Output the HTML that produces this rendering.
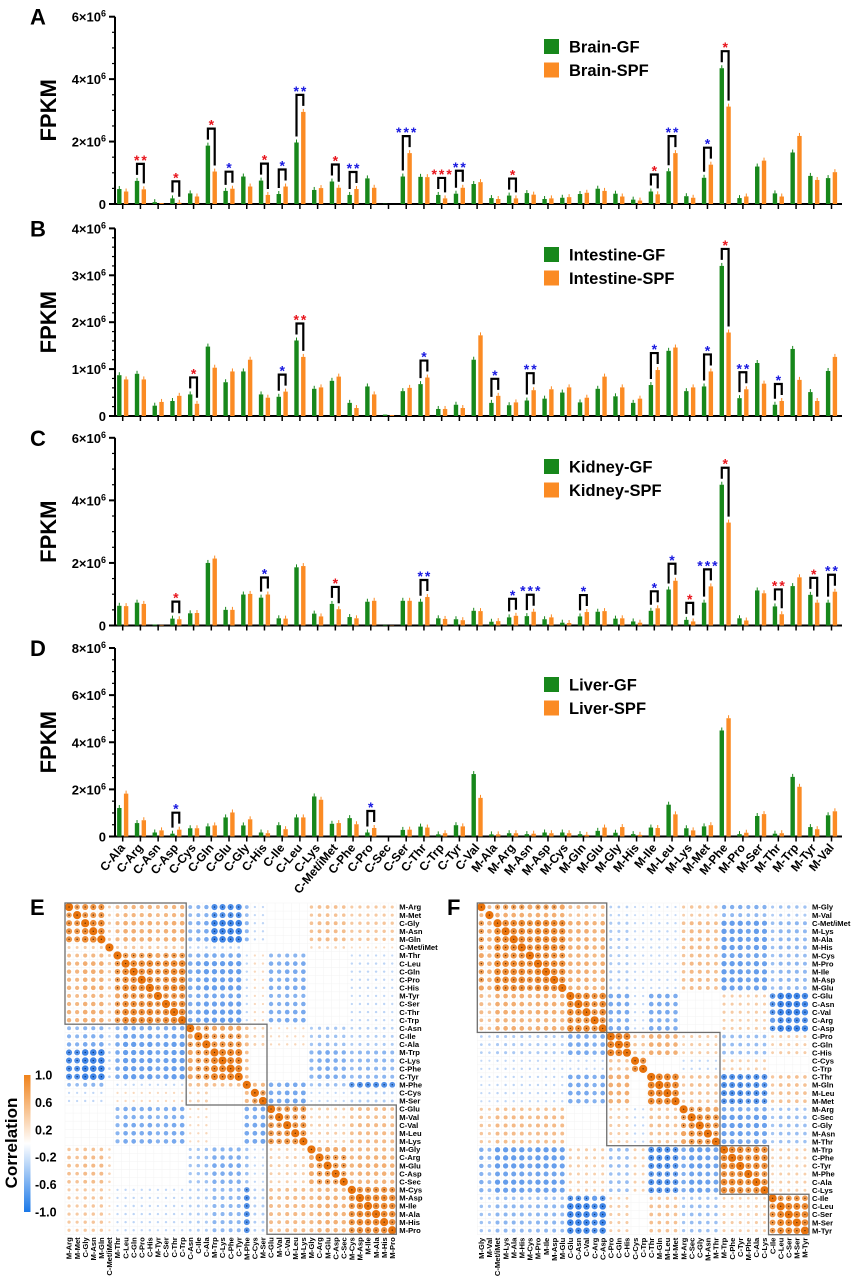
<!DOCTYPE html>
<html><head><meta charset="utf-8">
<style>
html,body{margin:0;padding:0;background:#fff;}
svg{display:block;font-family:"Liberation Sans",Arial,sans-serif;}
</style></head>
<body>
<svg id="fig" width="855" height="1280" viewBox="0 0 855 1280" xmlns="http://www.w3.org/2000/svg"></svg>
<script>
const categories = ["C-Ala","C-Arg","C-Asn","C-Asp","C-Cys","C-Gln","C-Glu","C-Gly","C-His","C-Ile","C-Leu","C-Lys","C-Met/iMet","C-Phe","C-Pro","C-Sec","C-Ser","C-Thr","C-Trp","C-Tyr","C-Val","M-Ala","M-Arg","M-Asn","M-Asp","M-Cys","M-Gln","M-Glu","M-Gly","M-His","M-Ile","M-Leu","M-Lys","M-Met","M-Phe","M-Pro","M-Ser","M-Thr","M-Trp","M-Tyr","M-Val"];
// values in units of 10^6 FPKM
const brainGF  = [.48,.74,.06,.18,.34,1.87,.42,.88,.75,.32,1.97,.45,.72,.29,.82,.01,.88,.87,.29,.33,.64,.19,.27,.35,.16,.20,.32,.49,.33,.14,.40,1.05,.25,.84,4.35,.19,1.20,.34,1.65,.90,.83];
const brainSPF = [.40,.47,.03,.04,.24,1.04,.49,.56,.29,.56,2.95,.51,.52,.48,.52,0,1.63,.86,.18,.52,.70,.16,.18,.30,.18,.22,.36,.42,.24,.11,.31,1.63,.20,1.26,3.12,.24,1.39,.24,2.18,.77,1.02];
const intGF  = [.87,.90,.22,.32,.46,1.48,.72,.95,.46,.41,1.61,.58,.75,.28,.63,.03,.53,.68,.15,.24,1.20,.28,.23,.33,.37,.50,.29,.58,.42,.28,.66,1.39,.53,.63,3.20,.38,1.13,.24,1.43,.51,.96];
const intSPF = [.78,.78,.30,.43,.26,1.03,.95,1.20,.39,.52,1.26,.61,.84,.17,.46,.02,.60,.82,.15,.17,1.72,.43,.29,.55,.57,.61,.39,.84,.61,.37,.98,1.46,.61,.95,1.78,.57,.69,.32,.77,.32,1.26];
const kidGF  = [.63,.73,.03,.22,.39,2.00,.50,.99,.89,.23,1.86,.38,.69,.27,.76,.02,.79,.76,.23,.20,.47,.12,.26,.30,.20,.09,.29,.44,.22,.13,.47,1.15,.18,.73,4.50,.23,1.12,.61,1.26,.98,.73];
const kidSPF = [.62,.69,.02,.20,.40,2.14,.50,1.01,.99,.22,1.90,.29,.52,.23,.79,.01,.79,.91,.21,.17,.46,.14,.31,.44,.26,.08,.43,.46,.23,.09,.55,1.43,.13,1.25,3.29,.16,1.03,.36,1.54,.73,1.08];
const livGF  = [1.21,.57,.17,.12,.35,.43,.81,.47,.17,.48,.81,1.70,.54,.78,.17,0,.28,.42,.09,.48,2.65,.09,.14,.10,.17,.17,.10,.24,.16,.10,.38,1.35,.35,.43,4.50,.10,.87,.12,2.53,.40,.90];
const livSPF = [1.82,.69,.26,.29,.35,.47,1.02,.73,.14,.31,.81,1.56,.57,.52,.36,0,.29,.38,.14,.43,1.64,.09,.14,.12,.14,.14,.07,.38,.40,.07,.36,.94,.26,.48,5.02,.16,.95,.14,2.11,.31,1.07];
// significance: [category index, stars, colour]
const sigBrain = [[1,"**","r"],[3,"*","r"],[5,"*","r"],[6,"*","b"],[8,"*","r"],[9,"*","b"],[10,"**","b"],[12,"*","r"],[13,"**","b"],[16,"***","b"],[18,"***","r"],[19,"**","b"],[22,"*","r"],[30,"*","r"],[31,"**","b"],[33,"*","b"],[34,"*","r"]];
const sigInt = [[4,"*","r"],[9,"*","b"],[10,"**","r"],[17,"*","b"],[21,"*","b"],[23,"**","b"],[30,"*","b"],[33,"*","b"],[34,"*","r"],[35,"**","b"],[37,"*","b"]];
const sigKid = [[3,"*","r"],[8,"*","b"],[12,"*","r"],[17,"**","b"],[22,"*","b"],[23,"***","b"],[26,"*","b"],[30,"*","b"],[31,"*","b"],[32,"*","r"],[33,"***","b"],[34,"*","r"],[37,"**","r"],[39,"*","r"],[40,"**","b"]];
const sigLiv = [[3,"*","b"],[14,"*","b"]];
const ticksBrain = [0,2,4,6];
const ticksInt = [0,1,2,3,4];
const ticksKid = [0,2,4,6];
const ticksLiv = [0,2,4,6,8];

const rowsE = ["M-Arg","M-Met","C-Gly","M-Asn","M-Gln","C-Met/iMet","M-Thr","C-Leu","C-Gln","C-Pro","C-His","M-Tyr","C-Ser","C-Thr","C-Trp","C-Asn","C-Ile","C-Ala","M-Trp","C-Lys","C-Phe","C-Tyr","M-Phe","C-Cys","M-Ser","C-Glu","M-Val","C-Val","M-Leu","M-Lys","M-Gly","C-Arg","M-Glu","C-Asp","C-Sec","M-Cys","M-Asp","M-Ile","M-Ala","M-His","M-Pro"];
const clusterE = [0,0,0,0,0,1,2,2,2,2,2,2,2,2,2,3,3,3,4,4,4,4,5,6,6,7,7,7,7,7,8,8,8,8,8,9,9,9,9,9,9];
const loadE = [.9,.85,1,1,1,.7,.8,1,1,.95,1,.85,.95,1,1,.8,.9,1,1,1,1,1,1,.85,.9,.95,.9,1,1,1,.8,.95,1,.95,.9,.9,1,1,1,1,.95];
const blockE = [
[.75,.3,.45,-.45,-.75,-.35,-.1,0,.35,.25],
[.3,.9,.35,-.2,-.2,0,0,0,.2,.1],
[.45,.35,.75,-.55,-.55,-.1,.1,-.45,0,-.1],
[-.45,-.2,-.55,.7,.65,.35,.2,.1,-.3,-.2],
[-.75,-.2,-.55,.65,.8,.3,0,0,-.45,-.35],
[-.35,0,-.1,.35,.3,1,.4,-.45,-.3,-.65],
[-.1,0,.1,.2,0,.4,.75,-.55,-.1,-.2],
[0,0,-.45,.1,0,-.45,-.55,.65,.2,.35],
[.35,.2,0,-.3,-.45,-.3,-.1,.2,.65,.45],
[.25,.1,-.1,-.2,-.35,-.65,-.2,.35,.45,.75]];
const boxesE = [[0,15],[15,25],[25,41]];
const rowsF = ["M-Gly","M-Val","C-Met/iMet","M-Lys","M-Ala","M-His","M-Cys","M-Pro","M-Ile","M-Asp","M-Glu","C-Glu","C-Asn","C-Val","C-Arg","C-Asp","C-Pro","C-Gln","C-His","C-Cys","C-Trp","C-Thr","M-Gln","M-Leu","M-Met","M-Arg","C-Sec","C-Gly","M-Asn","M-Thr","M-Trp","C-Phe","C-Tyr","M-Phe","C-Ala","C-Lys","C-Ile","C-Leu","C-Ser","M-Ser","M-Tyr"];
const clusterF = [0,0,0,0,0,0,0,0,0,0,0,1,1,1,1,1,2,2,2,3,3,4,4,4,4,5,5,5,5,5,6,6,6,6,6,6,7,7,7,7,7];
const loadF = [.75,.6,1,1,1,1,.9,1,1,1,.95,1,1,1,.9,1,1,1,1,.9,.9,1,1,1,.95,.8,1,1,.95,.9,1,1,1,.9,1,.95,.8,1,1,1,.95];
const blockF = [
[.75,.45,-.2,-.1,-.1,.35,-.55,-.35],
[.45,.75,-.45,-.1,-.45,0,.2,-.75],
[-.2,-.45,.8,.3,.45,.2,-.3,.2],
[-.1,-.1,.3,.85,0,-.1,.2,0],
[-.1,-.45,.45,0,.8,.3,-.65,.3],
[.35,0,.2,-.1,.3,.7,-.55,-.3],
[-.55,.2,-.3,.2,-.65,-.55,.75,.2],
[-.35,-.75,.2,0,.3,-.3,.2,.8]];
const boxesF = [[0,16],[16,30],[30,36],[36,41]];
const cbarLabels = ["1.0","0.6","0.2","-0.2","-0.6","-1.0"];

const NS="http://www.w3.org/2000/svg";
const svg=document.getElementById('fig');
function mk(tag,attrs,parent){const e=document.createElementNS(NS,tag);for(const k in attrs)e.setAttribute(k,attrs[k]);(parent||svg).appendChild(e);return e;}
const GREEN="#17871b", ORANGE="#fb8b24";
const X0=122.7, DX=17.72, AXL=115, AXR=842;
const xc=i=>X0+DX*i;

function barPanel(cfg){
  const g=mk('g',{});
  
  
  const y=v=>cfg.base-v/cfg.max*(cfg.base-cfg.top);
  const L=mk('text',{x:30,y:cfg.top+8,'font-size':22,'font-weight':'bold'},g);L.textContent=cfg.letter;
  
  
  const yc=(cfg.top+cfg.base)/2;
  const T=mk('text',{x:56,y:yc,'font-size':22,'font-weight':'bold','text-anchor':'middle',transform:`rotate(-90 56 ${yc})`},g);T.textContent='FPKM';
  
  
  const ax=mk('path',{d:`M${AXL},${cfg.top} V${cfg.base} H${AXR}`,stroke:'#000','stroke-width':2,fill:'none'},g);
  
  
  for(let v=0;v<=cfg.max+1e-9;v+=cfg.minor){
    mk('line',{x1:AXL-3,x2:AXL,y1:y(v),y2:y(v),stroke:'#000','stroke-width':1.2},g);
  }
  cfg.ticks.forEach(t=>{
    mk('line',{x1:AXL-6,x2:AXL,y1:y(t),y2:y(t),stroke:'#000','stroke-width':2},g);
    const tx=mk('text',{x:AXL-9,y:y(t)+5,'font-size':13,'font-weight':'bold','text-anchor':'end'},g);
    
    
    if(t===0){tx.textContent='0';}
    else{tx.textContent=t+'×10';const s=mk('tspan',{dy:-5,'font-size':9},tx);s.textContent='6';}
  });
  categories.forEach((c,i)=>{
    mk('line',{x1:xc(i),x2:xc(i),y1:cfg.base,y2:cfg.base+5,stroke:'#000','stroke-width':1.5},g);
    const gv=cfg.gf[i], ov=cfg.spf[i];
    const b1=mk('rect',{x:xc(i)-5.6,y:y(gv),width:4.4,height:cfg.base-y(gv),fill:GREEN},g);
    
    
    const b2=mk('rect',{x:xc(i)+1.2,y:y(ov),width:4.4,height:cfg.base-y(ov),fill:ORANGE},g);
    
    
    if(gv>0.03){mk('line',{x1:xc(i)-3.4,x2:xc(i)-3.4,y1:y(gv),y2:y(gv)-3,stroke:GREEN,'stroke-width':1},g);}
    if(ov>0.03){mk('line',{x1:xc(i)+3.4,x2:xc(i)+3.4,y1:y(ov),y2:y(ov)-3,stroke:ORANGE,'stroke-width':1},g);}
  });
  cfg.sig.forEach(s=>{
    const i=s[0];const gt=y(cfg.gf[i])-6, ot=y(cfg.spf[i])-6;
    const top=Math.min(gt,ot)-11;
    const br=mk('path',{d:`M${xc(i)-3.4},${gt} V${top} H${xc(i)+3.4} V${ot}`,stroke:'#000','stroke-width':2.2,fill:'none'},g);
    
    
    const st=mk('text',{x:xc(i)+1,y:top+1,'font-size':14,'font-weight':'bold','text-anchor':'middle','letter-spacing':2,fill:s[2]==='r'?'#e8141c':'#1818e0'},g);
    st.textContent=s[1];
    
    
  });
  const lg=mk('g',{},g);
  
  
  [[GREEN,cfg.tissue+'-GF',cfg.leg],[ORANGE,cfg.tissue+'-SPF',cfg.leg+23.5]].forEach(e=>{
    mk('rect',{x:544,y:e[2],width:15,height:15,fill:e[0]},lg);
    const t=mk('text',{x:569,y:e[2]+13.5,'font-size':16.5,'font-weight':'bold'},lg);t.textContent=e[1];
    
    
  });
}
barPanel({name:'brain',letter:'A',tissue:'Brain',top:16.7,base:204,max:6,minor:0.5,ticks:ticksBrain,gf:brainGF,spf:brainSPF,sig:sigBrain,leg:39});
barPanel({name:'intestine',letter:'B',tissue:'Intestine',top:228.4,base:416,max:4,minor:0.2,ticks:ticksInt,gf:intGF,spf:intSPF,sig:sigInt,leg:247});
barPanel({name:'kidney',letter:'C',tissue:'Kidney',top:437.8,base:625.5,max:6,minor:0.5,ticks:ticksKid,gf:kidGF,spf:kidSPF,sig:sigKid,leg:459});
barPanel({name:'liver',letter:'D',tissue:'Liver',top:648,base:836.5,max:8,minor:0.5,ticks:ticksLiv,gf:livGF,spf:livSPF,sig:sigLiv,leg:677});
const xl=mk('g',{});


categories.forEach((c,i)=>{
  const x=xc(i)+3,yv=848;
  const t=mk('text',{x:x,y:yv,'font-size':12,'font-weight':'bold','text-anchor':'end',transform:`rotate(-50 ${x} ${yv})`},xl);
  t.textContent=c;
  
  
});

function mix(a,b,t){return '#'+[0,1,2].map(k=>{const v=Math.round(a[k]+(b[k]-a[k])*t);return v.toString(16).padStart(2,'0');}).join('');}
const WHITE=[255,255,255],ORG=[232,115,12],BLU=[24,108,225];
function heat(cfg){
  const g=mk('g',{});
  
  
  const n=cfg.rows.length,C=cfg.cell,x0=cfg.x0,y0=cfg.y0;
  const L=mk('text',{x:cfg.lx,y:y0+12,'font-size':22,'font-weight':'bold'},g);L.textContent=cfg.letter;
  
  
  for(let k=0;k<=n;k++){
    mk('line',{x1:x0,x2:x0+n*C,y1:y0+k*C,y2:y0+k*C,stroke:'#f3f3f3','stroke-width':0.5},g);
    mk('line',{y1:y0,y2:y0+n*C,x1:x0+k*C,x2:x0+k*C,stroke:'#f3f3f3','stroke-width':0.5},g);
  }
  for(let i=0;i<n;i++)for(let j=0;j<n;j++){
    const r=i===j?1:cfg.block[cfg.cl[i]][cfg.cl[j]]*cfg.ld[i]*cfg.ld[j];
    const a=Math.abs(r);if(a<0.04)continue;
    const col=mix(WHITE,r>0?ORG:BLU,Math.min(1,0.2+0.85*a));
    const cx=x0+(j+.5)*C,cy=y0+(i+.5)*C;
    const c=mk('circle',{cx:cx,cy:cy,r:(0.9+3.2*a).toFixed(2),fill:col},g);
    
    
    if(a>0.55)mk('circle',{cx:cx,cy:cy,r:0.7,fill:r>0?'#5a2a00':'#06306e'},g);
  }
  cfg.boxes.forEach(b=>{
    const bx=mk('rect',{x:x0+b[0]*C,y:y0+b[0]*C,width:(b[1]-b[0])*C,height:(b[1]-b[0])*C,fill:'none',stroke:'#6e6e6e','stroke-width':1.3},g);
    
    
  });
  cfg.rows.forEach((r,i)=>{
    const t=mk('text',{x:x0+n*C+3,y:y0+(i+.5)*C+2.7,'font-size':7.6,'font-weight':'bold'},g);t.textContent=r;
    
    
    const cx=x0+(i+.5)*C+2.7,cy=y0+n*C+3;
    const u=mk('text',{x:cx,y:cy,'font-size':7.6,'font-weight':'bold','text-anchor':'end',transform:`rotate(-90 ${cx} ${cy})`},g);u.textContent=r;
    
    
  });
}
heat({name:'heatmap-e',letter:'E',lx:30,x0:65,y0:903,cell:8.08,rows:rowsE,cl:clusterE,ld:loadE,block:blockE,boxes:boxesE});
heat({name:'heatmap-f',letter:'F',lx:447,x0:477.3,y0:903,cell:8.09,rows:rowsF,cl:clusterF,ld:loadF,block:blockF,boxes:boxesF});
const defs=mk('defs',{});
const lgd=mk('linearGradient',{id:'cb',x1:0,y1:0,x2:0,y2:1},defs);
mk('stop',{offset:'0','stop-color':'#f0821a'},lgd);
mk('stop',{offset:'0.5','stop-color':'#ffffff'},lgd);
mk('stop',{offset:'1','stop-color':'#1a78e8'},lgd);
const cb=mk('rect',{x:24,y:1075,width:6.5,height:137,fill:'url(#cb)'});


cbarLabels.forEach((l,k)=>{
  const t=mk('text',{x:35,y:1075+k*137/5+4.5,'font-size':12.5,'font-weight':'bold'});t.textContent=l;
  
  
});
const ct=mk('text',{x:17,y:1143,'font-size':17,'font-weight':'bold','text-anchor':'middle',transform:'rotate(-90 17 1143)'});
ct.textContent='Correlation';


</script>
</body></html>
